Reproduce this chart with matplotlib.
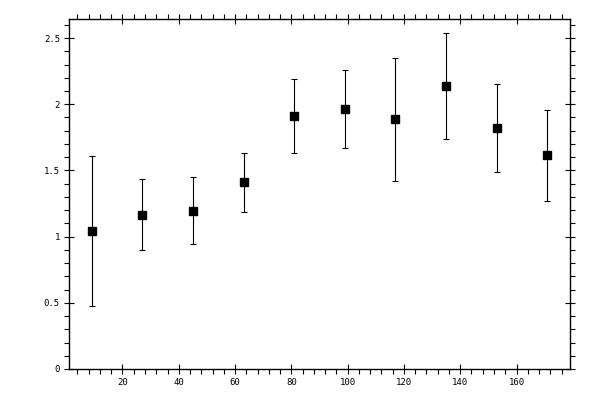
import matplotlib
matplotlib.use("Agg")
import matplotlib.pyplot as plt
from matplotlib.ticker import MultipleLocator, FuncFormatter

x_vals = [9, 27, 45, 63, 81, 99, 117, 135, 153, 171]
y_vals = [1.045, 1.167, 1.197, 1.409, 1.909, 1.962, 1.886, 2.136, 1.818, 1.614]
y_err = [0.567, 0.27, 0.25, 0.22, 0.28, 0.295, 0.465, 0.40, 0.333, 0.345]
x_ticks = [20, 40, 60, 80, 100, 120, 140, 160]
y_ticks = [0, 0.5, 1, 1.5, 2, 2.5]

fig = plt.figure(figsize=(6, 4), dpi=100)
ax = fig.add_axes([69/600, 1-369/400, (570-69)/600, (369-19)/400])

ax.errorbar(x_vals, y_vals, yerr=y_err, fmt='s', color='black', ecolor='black',
            markersize=5.2, elinewidth=0.8, capsize=2.2, capthick=0.8)

ax.set_xlim(1, 179)
ax.set_ylim(0, 2.644)
ax.set_xticks(x_ticks)
ax.set_yticks(y_ticks)
ax.xaxis.set_minor_locator(MultipleLocator(4))
ax.yaxis.set_minor_locator(MultipleLocator(0.1))

def fmt(v, pos):
    s = ('%g' % v)
    return s
ax.yaxis.set_major_formatter(FuncFormatter(fmt))
ax.xaxis.set_major_formatter(FuncFormatter(fmt))

for sp in ax.spines.values():
    sp.set_linewidth(1.0)
    sp.set_color('black')

ax.tick_params(which='major', direction='inout', length=7, width=0.8,
               top=True, right=True, labelsize=6.5, pad=3)
ax.tick_params(which='minor', direction='out', length=3.5, width=0.8,
               top=True, right=True)
for lab in ax.get_xticklabels() + ax.get_yticklabels():
    lab.set_family('DejaVu Sans Mono')

fig.savefig('out.png', dpi=100)
